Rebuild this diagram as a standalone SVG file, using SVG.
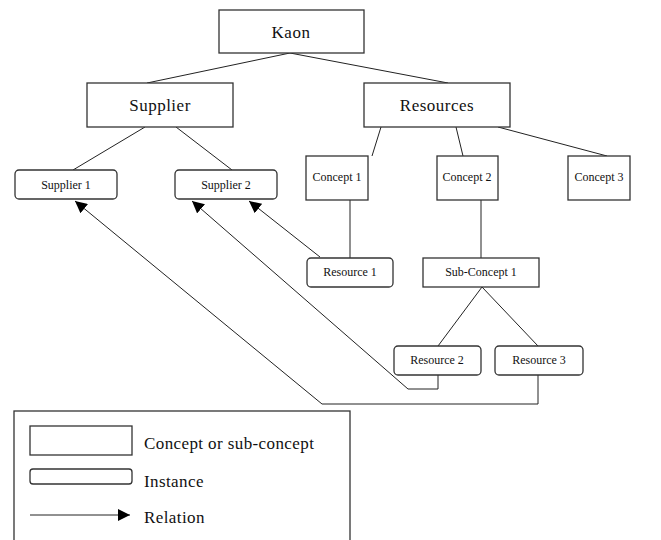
<svg xmlns="http://www.w3.org/2000/svg" width="661" height="540" viewBox="0 0 661 540" font-family="'Liberation Serif', 'Times New Roman', serif">
<defs>
<style>
.box{fill:#fff;stroke:#333;stroke-width:1.3}
.ln{fill:none;stroke:#222;stroke-width:1}
text{font-family:'Liberation Serif', 'Times New Roman', serif;fill:#111;text-anchor:middle}
.big{font-size:17px;letter-spacing:0.5px}
.sm{font-size:12px}
.lg{font-size:17px;text-anchor:start;letter-spacing:0.4px}
</style>
<marker id="ah" viewBox="0 0 10 10" refX="10" refY="5" markerWidth="12" markerHeight="12" markerUnits="userSpaceOnUse" orient="auto">
<path d="M0,0 L10,5 L0,10 Z" fill="#000"/>
</marker>
</defs>
<rect width="661" height="540" fill="#fff"/>
<g id="connectors">
<line class="ln" x1="290" y1="53" x2="147" y2="83"/>
<line class="ln" x1="290" y1="53" x2="448" y2="83"/>
<line class="ln" x1="145" y1="127" x2="73" y2="170"/>
<line class="ln" x1="176" y1="127" x2="232" y2="170"/>
<line class="ln" x1="381" y1="127" x2="372" y2="156"/>
<line class="ln" x1="456" y1="127" x2="463" y2="156"/>
<line class="ln" x1="498" y1="127" x2="607" y2="156"/>
<line class="ln" x1="350" y1="200" x2="350" y2="258"/>
<line class="ln" x1="481" y1="200" x2="481" y2="258"/>
<line class="ln" x1="482" y1="287" x2="438" y2="346"/>
<line class="ln" x1="482" y1="287" x2="538" y2="346"/>
<path class="ln" d="M320,257 L249,201" marker-end="url(#ah)"/>
<path class="ln" d="M438,375 L438,389 L408,389 L192,201" marker-end="url(#ah)"/>
<path class="ln" d="M538,375 L538,404 L322,404 L75,201" marker-end="url(#ah)"/>
</g>
<g id="kaon"><rect class="box" x="219" y="10" width="145" height="43"/><text class="big" x="291" y="38">Kaon</text></g>
<g id="supplier"><rect class="box" x="87" y="83" width="146" height="44"/><text class="big" x="160" y="111">Supplier</text></g>
<g id="resources"><rect class="box" x="364" y="83" width="146" height="44"/><text class="big" x="437" y="111">Resources</text></g>
<g id="supplier1"><rect class="box" x="15" y="170" width="102" height="29" rx="4"/><text class="sm" x="66" y="189">Supplier 1</text></g>
<g id="supplier2"><rect class="box" x="175" y="170" width="102" height="29" rx="4"/><text class="sm" x="226" y="189">Supplier 2</text></g>
<g id="concept1"><rect class="box" x="306" y="156" width="62" height="44"/><text class="sm" x="337" y="181">Concept 1</text></g>
<g id="concept2"><rect class="box" x="437" y="156" width="61" height="44"/><text class="sm" x="467" y="181">Concept 2</text></g>
<g id="concept3"><rect class="box" x="568" y="156" width="62" height="44"/><text class="sm" x="599" y="181">Concept 3</text></g>
<g id="resource1"><rect class="box" x="307" y="258" width="86" height="29" rx="4"/><text class="sm" x="350" y="276">Resource 1</text></g>
<g id="subconcept1"><rect class="box" x="423" y="258" width="116" height="29"/><text class="sm" x="481" y="276">Sub-Concept 1</text></g>
<g id="resource2"><rect class="box" x="394" y="346" width="87" height="29" rx="4"/><text class="sm" x="437" y="364">Resource 2</text></g>
<g id="resource3"><rect class="box" x="495" y="346" width="88" height="29" rx="4"/><text class="sm" x="539" y="364">Resource 3</text></g>
<g id="legend">
<rect class="box" x="14" y="411" width="336" height="140"/>
<rect class="box" x="30" y="426" width="102" height="29"/>
<text class="lg" x="144" y="449">Concept or sub-concept</text>
<rect class="box" x="30" y="469" width="102" height="15" rx="3"/>
<text class="lg" x="144" y="487">Instance</text>
<path class="ln" d="M30,515 L130,515" marker-end="url(#ah)"/>
<text class="lg" x="144" y="523">Relation</text>
</g>
</svg>
